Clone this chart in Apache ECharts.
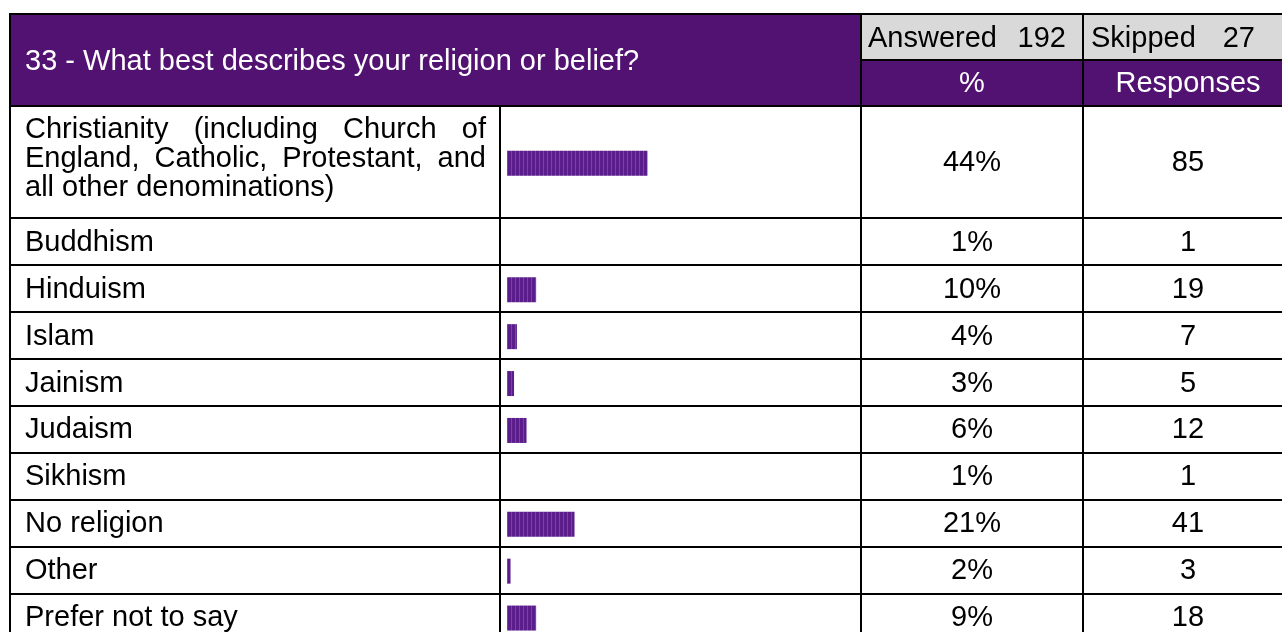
<!DOCTYPE html>
<html>
<head>
<meta charset="utf-8">
<script src="https://cdn.jsdelivr.net/npm/echarts@6/dist/echarts.min.js"></script>
<style>
html,body{margin:0;padding:0;background:#ffffff;}
#chart{width:1282px;height:632px;}
</style>
</head>
<body>
<div id="chart"></div>
<script>
// ---------------- data ----------------
const questionTitle = '33 - What best describes your religion or belief?';
const answeredCount = 192;
const skippedCount = 27;
const headerPercent = '%';
const headerResponses = 'Responses';
const categories = [
  'Christianity (including Church of England, Catholic, Protestant, and all other denominations)',
  'Buddhism', 'Hinduism', 'Islam', 'Jainism', 'Judaism', 'Sikhism', 'No religion', 'Other', 'Prefer not to say'
];
const percentLabels = ['44%', '1%', '10%', '4%', '3%', '6%', '1%', '21%', '2%', '9%'];
const responseCounts = [85, 1, 19, 7, 5, 12, 1, 41, 3, 18];
// bar lengths (percent of scale)
const barLengths = [43.9, 0, 9.1, 3.1, 2.2, 6.1, 0, 21.1, 1.1, 9.1];

// ---------------- layout ----------------
const FONT_SIZE = 29;
const FONT_FAMILY = '"Liberation Sans", Arial, Helvetica, sans-serif';
const PURPLE = '#511272';
const GREY = '#d9d9d9';
const BAR_BASE = '#5a1d8b';
const BAR_LIGHT = '#7446a0';

const TABLE_LEFT = 10, TABLE_RIGHT = 1293, TABLE_TOP = 14, TABLE_BOTTOM = 700;
const HEAD_MID = 60, HEAD_BOTTOM = 106;
const COL_BAR = 500, COL_PCT = 861, COL_RESP = 1083;
const FIRST_ROW_BOTTOM = 218.4, ROW_H = 46.9, N_REST = categories.length - 1;
const LABEL_X = 25, LABEL_W = 461;
const BAR_LEFT = 507, BAR_SCALE_W = 320; // 0..100 %
const BAR_SHIFT = 1;
const PCT_CX = (COL_PCT + COL_RESP) / 2;
const RESP_CX = (COL_RESP + TABLE_RIGHT) / 2;

// ---------------- helpers ----------------
const measureCtx = document.createElement('canvas').getContext('2d');
measureCtx.font = FONT_SIZE + 'px ' + FONT_FAMILY;
const tw = s => measureCtx.measureText(s).width;
const baseText = { fontSize: FONT_SIZE, fontFamily: FONT_FAMILY, color: '#000', lineHeight: 29 };

function justify(text) {
  const words = text.split(' ');
  const lines = []; let cur = [];
  words.forEach(wd => {
    if (cur.length && tw(cur.concat(wd).join(' ')) > LABEL_W) { lines.push(cur); cur = [wd]; }
    else cur.push(wd);
  });
  if (cur.length) lines.push(cur);
  const rich = { t: Object.assign({}, baseText) };
  const out = lines.map((ws, i) => {
    if (i === lines.length - 1 || ws.length < 2) return '{t|' + ws.join(' ') + '}';
    const gap = (LABEL_W - ws.reduce((a, s) => a + tw(s), 0)) / (ws.length - 1);
    rich['g' + i] = Object.assign({}, baseText, { width: gap });
    return ws.map(s => '{t|' + s + '}').join('{g' + i + '| }');
  });
  return { text: out.join('\n'), rich: rich };
}
const firstLabel = justify(categories[0]);

// striped bar fill
const pat = document.createElement('canvas');
pat.width = 4; pat.height = 4;
const pctx = pat.getContext('2d');
pctx.fillStyle = BAR_BASE; pctx.fillRect(0, 0, 4, 4);
pctx.fillStyle = BAR_LIGHT; pctx.fillRect(3, 0, 1, 4);

// ---------------- chart ----------------
const chart = echarts.init(document.getElementById('chart'), null, { renderer: 'canvas' });

const restTop = FIRST_ROW_BOTTOM + BAR_SHIFT;
const grids = [
  { left: BAR_LEFT, width: BAR_SCALE_W, top: HEAD_BOTTOM + BAR_SHIFT, height: FIRST_ROW_BOTTOM - HEAD_BOTTOM, containLabel: false, outerBoundsMode: 'none' },
  { left: BAR_LEFT, width: BAR_SCALE_W, top: restTop, height: ROW_H * N_REST, containLabel: false, outerBoundsMode: 'none' }
];
const gridRight = BAR_LEFT + BAR_SCALE_W;

function xAx(i) { return { type: 'value', gridIndex: i, min: 0, max: 100, show: false }; }
function catAx(i, data, label) {
  return Object.assign({
    type: 'category', gridIndex: i, inverse: true, data: data,
    axisLine: { show: false }, axisTick: { show: false }, splitLine: { show: false }
  }, label);
}
const leftLabel = { margin: BAR_LEFT - LABEL_X, align: 'left', interval: 0, fontSize: FONT_SIZE, fontFamily: FONT_FAMILY, color: '#000' };
const pctLabel = { margin: PCT_CX - gridRight, align: 'center', interval: 0, fontSize: FONT_SIZE, fontFamily: FONT_FAMILY, color: '#000' };
const respLabel = { margin: RESP_CX - gridRight, align: 'center', interval: 0, fontSize: FONT_SIZE, fontFamily: FONT_FAMILY, color: '#000' };

const yAxes = [
  catAx(0, [categories[0]], { position: 'left', axisLabel: Object.assign({}, leftLabel, { formatter: () => firstLabel.text, rich: firstLabel.rich, lineHeight: 29, padding: [0, 0, 8, 0] }) }),
  catAx(0, [percentLabels[0]], { position: 'right', axisLabel: pctLabel }),
  catAx(0, [String(responseCounts[0])], { position: 'right', axisLabel: respLabel }),
  catAx(1, categories.slice(1), { position: 'left', axisLabel: leftLabel }),
  catAx(1, percentLabels.slice(1), { position: 'right', axisLabel: pctLabel }),
  catAx(1, responseCounts.slice(1).map(String), { position: 'right', axisLabel: respLabel })
];

const barStyle = { color: { image: pat, repeat: 'repeat' } };
const series = [
  { type: 'bar', xAxisIndex: 0, yAxisIndex: 0, data: [barLengths[0]], barWidth: 25, itemStyle: barStyle, silent: true },
  { type: 'bar', xAxisIndex: 1, yAxisIndex: 3, data: barLengths.slice(1), barWidth: 25, itemStyle: barStyle, silent: true }
];

// table drawing (background cells, rules, header texts)
const g = [];
g.push({ type: 'rect', shape: { x: TABLE_LEFT, y: TABLE_TOP, width: TABLE_RIGHT - TABLE_LEFT, height: HEAD_BOTTOM - TABLE_TOP }, style: { fill: PURPLE }, z: 0 });
g.push({ type: 'rect', shape: { x: COL_PCT, y: TABLE_TOP, width: TABLE_RIGHT - COL_PCT, height: HEAD_MID - TABLE_TOP }, style: { fill: GREY }, z: 0 });
function hl(y, x1, x2) { g.push({ type: 'line', shape: { x1: x1, y1: y, x2: x2, y2: y }, style: { stroke: '#000', lineWidth: 2 }, z: 10 }); }
function vl(x, y1, y2) { g.push({ type: 'line', shape: { x1: x, y1: y1, x2: x, y2: y2 }, style: { stroke: '#000', lineWidth: 2 }, z: 10 }); }
hl(TABLE_TOP, TABLE_LEFT - 1, TABLE_RIGHT);
hl(HEAD_MID, COL_PCT, TABLE_RIGHT);
hl(HEAD_BOTTOM, TABLE_LEFT - 1, TABLE_RIGHT);
for (let k = 0; k <= N_REST; k++) hl(Math.round(FIRST_ROW_BOTTOM + k * ROW_H), TABLE_LEFT - 1, TABLE_RIGHT);
vl(TABLE_LEFT, TABLE_TOP - 1, TABLE_BOTTOM);
vl(COL_BAR, HEAD_BOTTOM, TABLE_BOTTOM);
vl(COL_PCT, TABLE_TOP - 1, TABLE_BOTTOM);
vl(COL_RESP, TABLE_TOP - 1, TABLE_BOTTOM);
vl(TABLE_RIGHT, TABLE_TOP - 1, TABLE_BOTTOM);
const font = FONT_SIZE + 'px ' + FONT_FAMILY;
function txt(s, x, y, align, color) {
  g.push({ type: 'text', x: x, y: y, z: 12, style: { text: s, font: font, fill: color, align: align, verticalAlign: 'middle' } });
}
txt(questionTitle, LABEL_X, (TABLE_TOP + HEAD_BOTTOM) / 2 + 2, 'left', '#fff');
txt('Answered', 868, (TABLE_TOP + HEAD_MID) / 2 + 2, 'left', '#000');
txt(String(answeredCount), 1066, (TABLE_TOP + HEAD_MID) / 2 + 2, 'right', '#000');
txt('Skipped', 1091, (TABLE_TOP + HEAD_MID) / 2 + 2, 'left', '#000');
txt(String(skippedCount), 1255, (TABLE_TOP + HEAD_MID) / 2 + 2, 'right', '#000');
txt(headerPercent, PCT_CX, (HEAD_MID + HEAD_BOTTOM) / 2 + 1, 'center', '#fff');
txt(headerResponses, RESP_CX, (HEAD_MID + HEAD_BOTTOM) / 2 + 1, 'center', '#fff');

chart.setOption({
  backgroundColor: '#ffffff',
  animation: false,
  grid: grids,
  xAxis: [xAx(0), xAx(1)],
  yAxis: yAxes,
  series: series,
  graphic: { elements: g }
});
</script>
</body>
</html>
